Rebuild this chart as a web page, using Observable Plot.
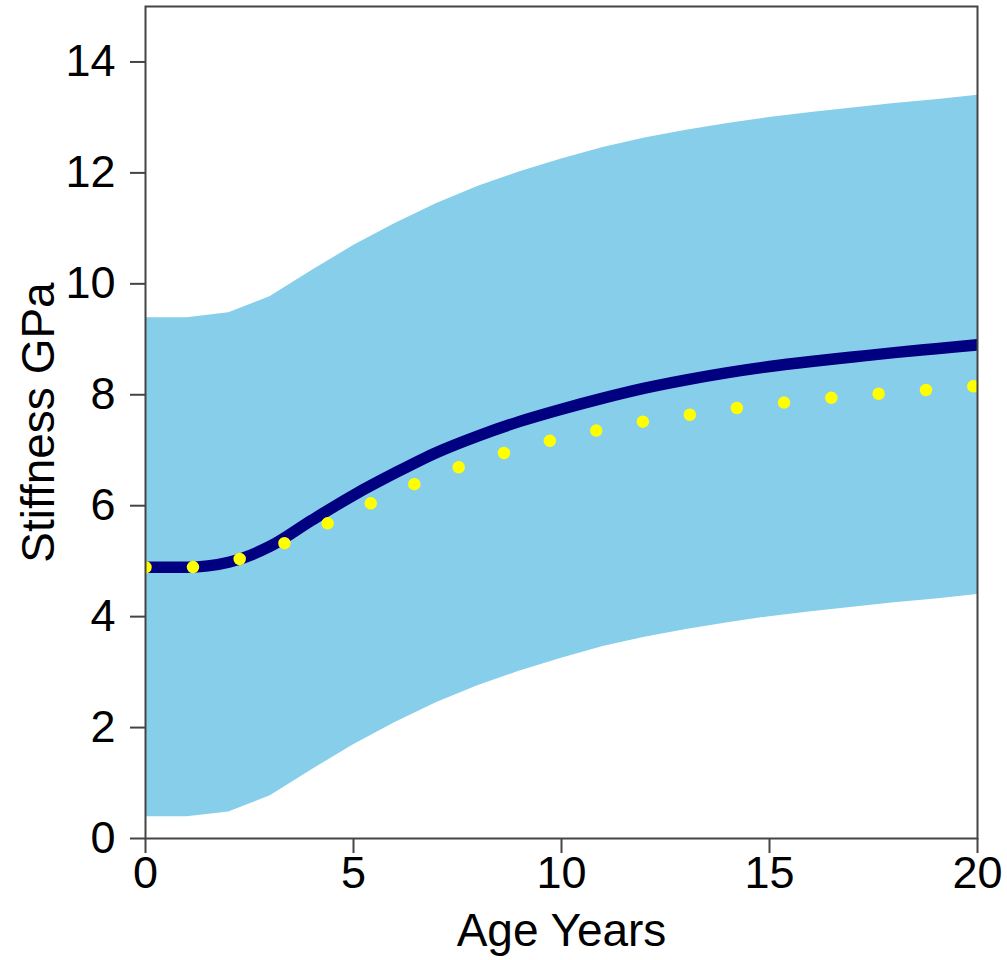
<!DOCTYPE html>
<html>
<head>
<meta charset="utf-8">
<script src="https://cdn.jsdelivr.net/npm/d3@7"></script>
<script src="https://cdn.jsdelivr.net/npm/@observablehq/plot@0.6"></script>
<style>
  html, body { margin: 0; padding: 0; background: #fff; }
  #chart { width: 1007px; height: 960px; }
</style>
</head>
<body>
<div id="chart"></div>
<script>
// Age in years
const ages = [0, 1, 2, 3, 4, 5, 6, 7, 8, 9, 10, 11, 12, 13, 14, 15, 16, 17, 18, 19, 20];
// Upper edge of the shaded band (GPa)
const upperBand = [9.39, 9.39, 9.48, 9.77, 10.24, 10.69, 11.09, 11.45, 11.76, 12.02, 12.25, 12.46, 12.63, 12.77, 12.89, 13.0, 13.09, 13.17, 13.25, 13.32, 13.40];
// Lower edge of the shaded band (GPa)
const lowerBand = [0.39, 0.39, 0.48, 0.77, 1.24, 1.69, 2.09, 2.45, 2.76, 3.02, 3.25, 3.46, 3.63, 3.77, 3.89, 4.0, 4.09, 4.17, 4.25, 4.32, 4.40];
// Solid navy curve (GPa)
const solidCurve = [4.89, 4.89, 4.98, 5.27, 5.74, 6.19, 6.59, 6.96, 7.26, 7.52, 7.74, 7.94, 8.12, 8.27, 8.40, 8.51, 8.60, 8.68, 8.76, 8.83, 8.90];
// Dotted yellow curve (GPa)
const dottedCurve = [4.89, 4.89, 4.99, 5.22, 5.55, 5.90, 6.24, 6.55, 6.81, 7.03, 7.22, 7.38, 7.52, 7.63, 7.74, 7.83, 7.91, 7.98, 8.04, 8.10, 8.16];

const xTicks = [0, 5, 10, 15, 20];
const yTicks = [0, 2, 4, 6, 8, 10, 12, 14];

const rows = ages.map((a, i) => ({
  age: a,
  upper: upperBand[i],
  lower: lowerBand[i],
  solid: solidCurve[i],
  dotted: dottedCurve[i]
}));

const FONT = "'Liberation Sans', Arial, 'DejaVu Sans', sans-serif";

const chart = Plot.plot({
  width: 1007,
  height: 960,
  marginLeft: 145,
  marginRight: 30,
  marginTop: 6,
  marginBottom: 122,
  style: { fontFamily: FONT, color: "#000", background: "#fff" },
  x: { domain: [0, 20] },
  y: { domain: [0, 15] },
  marks: [
    Plot.areaY(rows, { x: "age", y1: "lower", y2: "upper", fill: "#87CEEB", curve: "linear", clip: true }),
    Plot.line(rows, { x: "age", y: "solid", stroke: "#000080", strokeWidth: 11.5, curve: "monotone-x",
      strokeLinejoin: "round", clip: true }),
    Plot.line(rows, { x: "age", y: "dotted", stroke: "#FFFF00", strokeWidth: 12.5, curve: "monotone-x",
      strokeDasharray: "0,47.5", strokeLinecap: "round", clip: true }),
    Plot.frame({ stroke: "#444", strokeWidth: 2 }),
    Plot.axisX({ ticks: xTicks, tickSize: 15, tickPadding: 3, fontSize: 45, label: null,
      stroke: "#444", strokeWidth: 2, fill: "#000" }),
    Plot.axisY({ ticks: yTicks, tickSize: 15, tickPadding: 15, fontSize: 45, label: null,
      stroke: "#444", strokeWidth: 2, fill: "#000" }),
    Plot.text(["Age Years"], { frameAnchor: "bottom", dy: 107, fontSize: 46, fill: "#000",
      lineAnchor: "bottom", textAnchor: "middle", text: d => d }),
    Plot.text(["Stiffness GPa"], { frameAnchor: "left", dx: -106, rotate: -90, fontSize: 46, fill: "#000",
      lineAnchor: "middle", textAnchor: "middle", text: d => d })
  ]
});

document.getElementById("chart").appendChild(chart);
</script>
</body>
</html>
